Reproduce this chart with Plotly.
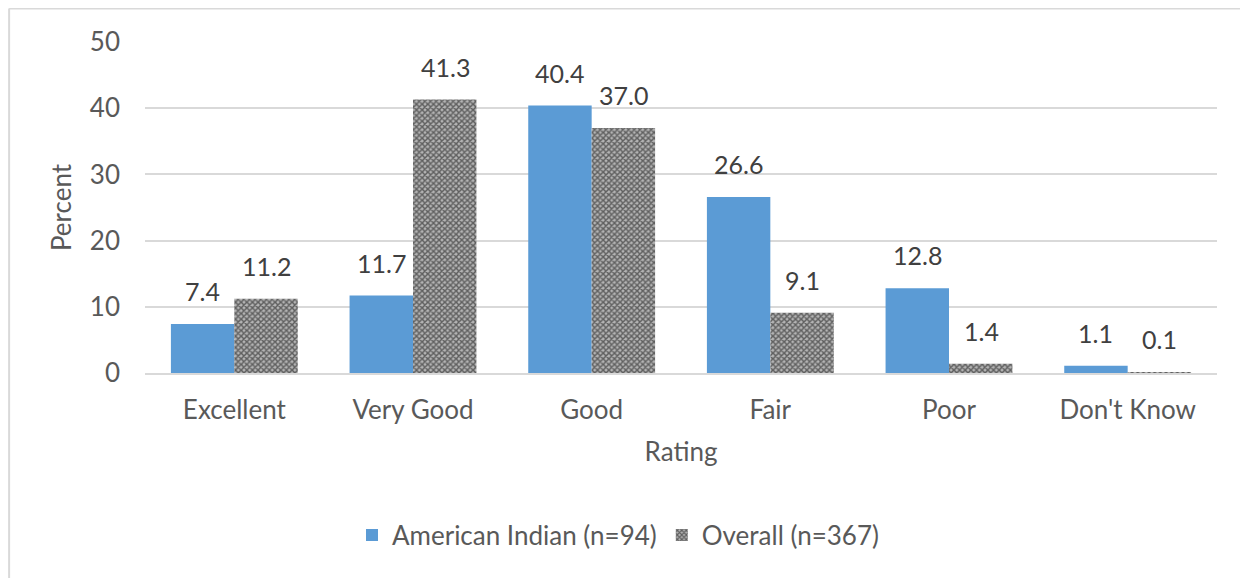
import plotly.graph_objects as go

categories = ["Excellent", "Very Good", "Good", "Fair", "Poor", "Don't Know"]
american_indian = [7.4, 11.7, 40.4, 26.6, 12.8, 1.1]
overall = [11.2, 41.3, 37.0, 9.1, 1.4, 0.1]
series_names = ["American Indian (n=94)", "Overall (n=367)"]
y_ticks = [0, 10, 20, 30, 40, 50]

FONT = "Lato, 'Open Sans', sans-serif"
FS = 26
W, H = 1248, 578
OFF = 8  # page body margin
L, T = 145 - OFF, 42 - OFF
pw, ph = 1217 - 145, 373 - 42
R, B = W - L - pw, H - T - ph

fig = go.Figure()
fig.add_trace(go.Bar(
    x=categories, y=american_indian, name=series_names[0],
    marker=dict(color="#5B9BD5", line=dict(width=0)),
))
fig.add_trace(go.Bar(
    x=categories, y=overall, name=series_names[1],
    marker=dict(color="white", line=dict(width=0),
                pattern=dict(shape="x", fgcolor="#0a0a0a", bgcolor="#b4b4b4",
                             size=4, solidity=0.6)),
))

annotations = []
for vals, shift in ((american_indian, -32), (overall, 32)):
    for c, v in zip(categories, vals):
        annotations.append(dict(
            x=c, y=v, xref="x", yref="y", text=f"{v:.1f}", showarrow=False,
            xshift=shift, yshift=16, yanchor="bottom",
            font=dict(family=FONT, size=25, color="#404040"),
        ))

bx = (7.5 - OFF - L) / pw + 0.0015
by = 1 + (T - (7.5 - OFF)) / ph - 0.003
shapes = [
    dict(type="line", xref="paper", yref="paper",
         x0=bx, x1=bx, y0=by, y1=-1.0,
         line=dict(color="#D9D9D9", width=2)),
    dict(type="line", xref="paper", yref="paper",
         x0=bx, x1=1.2, y0=by, y1=by,
         line=dict(color="#D9D9D9", width=2)),
]

fig.update_layout(
    width=W, height=H,
    margin=dict(l=L, r=R, t=T, b=B, autoexpand=False),
    paper_bgcolor="white", plot_bgcolor="white",
    barmode="group", bargap=0.29, bargroupgap=0,
    font=dict(family=FONT, size=FS, color="#595959"),
    annotations=annotations, shapes=shapes,
    legend=dict(orientation="h", x=(352 - OFF - L) / pw, xanchor="left",
                y=(T + ph - (535 - OFF)) / ph, yanchor="middle",
                font=dict(family=FONT, size=FS, color="#595959"),
                traceorder="normal"),
    xaxis=dict(
        title=dict(text="Rating", font=dict(size=FS, color="#595959"), standoff=19),
        showline=True, linecolor="#D9D9D9", linewidth=1.5,
        ticks="", ticklabelstandoff=13, showgrid=False,
    ),
    yaxis=dict(
        title=dict(text="Percent", font=dict(size=FS, color="#595959"), standoff=10),
        range=[0, 50], tickvals=y_ticks, showgrid=True, gridcolor="#D9D9D9",
        gridwidth=1.5, zeroline=False, showline=False, ticks="",
        ticklabelstandoff=24,
    ),
)

fig.write_html("out.html")
